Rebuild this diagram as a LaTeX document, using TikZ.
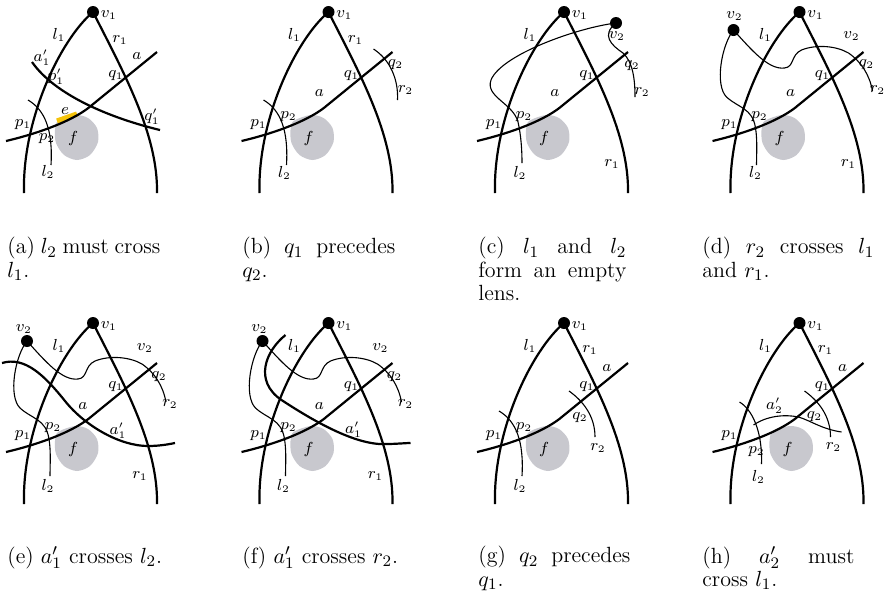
\documentclass[tikz,border=0pt]{standalone}
\usetikzlibrary{positioning}
\definecolor{facegray}{RGB}{200,200,206}
\definecolor{edgeyellow}{RGB}{245,195,10}

\newcommand{\lensPanel}[4]{%
  \begin{scope}[shift={(#1,#2)}]
    \begin{scope}[shift={(#3,0)}]
      \fill[facegray] plot[smooth cycle] coordinates {(58,121) (75,115) (88,118) (97,128) (98,142) (90,155) (77,160) (64,155) (56,143) (55,130)};
      \node[lab] (flab) at (73,138) {$f$};
    \end{scope}
    #4
    \node[vertex] (v1) at (93,12) {};
    \draw[pseudo] (v1.center) .. controls (60,40) and (22,120) .. (24,193);
    \draw[pseudo] (v1.center) .. controls (125,75) and (158,135) .. (157,193);
    \draw[pseudo] (6,141) .. controls (40,133) and (75,120) .. (92,105) -- (157,52);
    \node[lab] (v1lab) at (109,15) {$v_1$};
    \node[lab] (l1lab) at (59,35) {$l_1$};
    \node[lab] (q1lab) at (116,76) {$q_1$};
    \node[lab] (p1lab) at (23,125) {$p_1$};
  \end{scope}}

\begin{document}
\begin{tikzpicture}[x=0.5pt,y=-0.5pt,
  pseudo/.style={line width=1.1pt},
  thinarc/.style={line width=0.55pt},
  vertex/.style={circle,fill=black,inner sep=0pt,minimum size=6pt},
  lab/.style={inner sep=0pt,font=\fontsize{7.6}{8}\selectfont},
  capt/.style={anchor=north west,inner sep=0pt,align=justify,font=\fontsize{11}{11.7}\selectfont}]
  \path[use as bounding box] (0,0) rectangle (886,596);

  % (a)
  \lensPanel{0}{0}{0}{%
    \draw[edgeyellow,line width=2.6pt] (57,121) -- (77,114);
    \draw[thinarc] (28,100) .. controls (45,110) and (53,130) .. (51,165);
    \draw[pseudo] (32,62) .. controls (55,95) and (110,118) .. (160,130);
    \node[lab] (r1lab) at (120,40) {$r_1$};
    \node[lab] (alab) at (137,56) {$a$};
    \node[lab] (a1lab) at (42,58) {$a'_1$};
    \node[lab] (p1plab) at (56,77) {$p'_1$};
    \node[lab] (q1plab) at (152,117) {$q'_1$};
    \node[lab] (elab) at (65,111) {$e$};
    \node[lab] (p2lab) at (47,139) {$p_2$};
    \node[lab] (l2lab) at (48,172) {$l_2$};}

  % (b)
  \lensPanel{235.5}{0}{0}{%
    \draw[thinarc] (28,100) .. controls (45,110) and (53,130) .. (51,165);
    \draw[thinarc] (138,49) .. controls (155,60) and (163,80) .. (162,100);
    \node[lab] (r1lab) at (120,40) {$r_1$};
    \node[lab] (alab) at (84,93) {$a$};
    \node[lab] (p2lab) at (53,117) {$p_2$};
    \node[lab] (l2lab) at (49,173) {$l_2$};
    \node[lab] (q2lab) at (160,65) {$q_2$};
    \node[lab] (r2lab) at (170,90) {$r_2$};}

  % (c)
  \lensPanel{471}{0}{0}{%
    \node[vertex] (v2) at (145,23) {};
    \draw[thinarc] (v2.center) .. controls (105,28) and (30,55) .. (20,80) .. controls (14,97) and (42,103) .. (47,122) .. controls (50,135) and (51,150) .. (51,163);
    \draw[thinarc] (v2.center) .. controls (130,35) and (140,45) .. (152,53) .. controls (162,62) and (164,80) .. (164,97);
    \node[lab] (v2lab) at (146,36) {$v_2$};
    \node[lab] (alab) at (84,93) {$a$};
    \node[lab] (p2lab) at (53,117) {$p_2$};
    \node[lab] (l2lab) at (49,173) {$l_2$};
    \node[lab] (r1lab) at (141,164) {$r_1$};
    \node[lab] (q2lab) at (161,66) {$q_2$};
    \node[lab] (r2lab) at (171,92) {$r_2$};}

  % (d)
  \lensPanel{706.5}{0}{0}{%
    \node[vertex] (v2) at (27,30) {};
    \draw[thinarc] (v2.center) .. controls (15,45) and (8,85) .. (20,97) .. controls (32,108) and (46,108) .. (49,128) .. controls (51,140) and (50,155) .. (50,165);
    \draw[thinarc] (v2.center) .. controls (45,50) and (62,70) .. (78,68) .. controls (88,67) and (84,55) .. (95,50) .. controls (110,44) and (130,46) .. (142,53) .. controls (155,62) and (163,75) .. (166,91);
    \node[lab] (v2lab) at (28,16) {$v_2$};
    \node[lab] (v2rlab) at (145,36) {$v_2$};
    \node[lab] (alab) at (84,93) {$a$};
    \node[lab] (p2lab) at (53,117) {$p_2$};
    \node[lab] (l2lab) at (49,173) {$l_2$};
    \node[lab] (r1lab) at (142,164) {$r_1$};
    \node[lab] (q2lab) at (160,65) {$q_2$};
    \node[lab] (r2lab) at (171,90) {$r_2$};}

  % (e)
  \lensPanel{0}{311}{0}{%
    \node[vertex] (v2) at (27,30) {};
    \draw[thinarc] (v2.center) .. controls (15,45) and (8,85) .. (20,97) .. controls (32,108) and (46,108) .. (49,128) .. controls (51,140) and (50,155) .. (50,165);
    \draw[thinarc] (v2.center) .. controls (45,50) and (62,70) .. (78,68) .. controls (88,67) and (84,55) .. (95,50) .. controls (110,44) and (130,46) .. (142,53) .. controls (155,62) and (163,75) .. (166,91);
    \draw[pseudo] (2,52) .. controls (25,45) and (45,65) .. (65,90) .. controls (85,115) and (120,135) .. (148,135) .. controls (160,135) and (170,133) .. (175,132);
    \node[lab] (v2lab) at (24,18) {$v_2$};
    \node[lab] (v2rlab) at (145,37) {$v_2$};
    \node[lab] (alab) at (83,95) {$a$};
    \node[lab] (a1lab) at (118,120) {$a'_1$};
    \node[lab] (p2lab) at (53,117) {$p_2$};
    \node[lab] (l2lab) at (48,175) {$l_2$};
    \node[lab] (r1lab) at (140,165) {$r_1$};
    \node[lab] (q2lab) at (159,66) {$q_2$};
    \node[lab] (r2lab) at (170,93) {$r_2$};}

  % (f)
  \lensPanel{235.5}{311}{0}{%
    \node[vertex] (v2) at (27,30) {};
    \draw[thinarc] (v2.center) .. controls (15,45) and (8,85) .. (20,97) .. controls (32,108) and (46,108) .. (49,128) .. controls (51,140) and (50,155) .. (50,165);
    \draw[thinarc] (v2.center) .. controls (45,50) and (62,70) .. (78,68) .. controls (88,67) and (84,55) .. (95,50) .. controls (110,44) and (130,46) .. (142,53) .. controls (155,62) and (163,75) .. (166,91);
    \draw[pseudo] (50,24) .. controls (30,40) and (18,70) .. (46,89) .. controls (75,108) and (120,135) .. (151,133) .. controls (160,133) and (170,132) .. (175,132);
    \node[lab] (v2lab) at (24,18) {$v_2$};
    \node[lab] (v2rlab) at (145,37) {$v_2$};
    \node[lab] (alab) at (84,95) {$a$};
    \node[lab] (a1lab) at (118,119) {$a'_1$};
    \node[lab] (p2lab) at (53,117) {$p_2$};
    \node[lab] (l2lab) at (48,175) {$l_2$};
    \node[lab] (r1lab) at (140,165) {$r_1$};
    \node[lab] (q2lab) at (159,66) {$q_2$};
    \node[lab] (r2lab) at (170,93) {$r_2$};}

  % (g)
  \lensPanel{471}{311}{0}{%
    \draw[thinarc] (28,100) .. controls (45,110) and (53,130) .. (51,165);
    \draw[thinarc] (98,80) .. controls (112,90) and (124,105) .. (124,126);
    \node[lab] (r1lab) at (119,39) {$r_1$};
    \node[lab] (alab) at (136,57) {$a$};
    \node[lab] (p2lab) at (53,117) {$p_2$};
    \node[lab] (l2lab) at (49,175) {$l_2$};
    \node[lab] (q2lab) at (109,107) {$q_2$};
    \node[lab] (r2lab) at (127,137) {$r_2$};}

  % (h)
  \lensPanel{706.5}{311}{8}{%
    \draw[thinarc] (33,91) .. controls (48,100) and (56,125) .. (55,153);
    \draw[thinarc] (98,80) .. controls (112,90) and (124,105) .. (124,126);
    \draw[thinarc] (47,114) .. controls (60,105) and (78,103) .. (92,106) .. controls (105,110) and (115,118) .. (135,121);
    \node[lab] (r1lab) at (119,39) {$r_1$};
    \node[lab] (alab) at (136,57) {$a$};
    \node[lab] (a2lab) at (68,95) {$a'_2$};
    \node[lab] (p2lab) at (50,141) {$p_2$};
    \node[lab] (l2lab) at (52,166) {$l_2$};
    \node[lab] (q2lab) at (108,106) {$q_2$};
    \node[lab] (r2lab) at (127,136) {$r_2$};}

  % captions
  \node[capt,text width=76.5pt] (capa) at (7,237) {(a) $l_2$ must cross $l_1$.};
  \node[capt,text width=76.5pt] (capb) at (242,237) {(b) $q_1$ precedes $q_2$.};
  \node[capt,text width=74pt] (capc) at (478,237) {(c) $l_1$ and $l_2$ form an empty lens.};
  \node[capt,text width=86pt] (capd) at (702,237) {(d) $r_2$ crosses $l_1$ and $r_1$.};
  \node[capt,text width=80pt] (cape) at (7,546) {(e) $a'_1$ crosses $l_2$.};
  \node[capt,text width=80pt] (capf) at (242,546) {(f) $a'_1$ crosses $r_2$.};
  \node[capt,text width=76pt] (capg) at (478,546) {(g) $q_2$ precedes $q_1$.};
  \node[capt,text width=76pt] (caph) at (702,546) {(h) $a'_2$ must cross $l_1$.};
\end{tikzpicture}
\end{document}
